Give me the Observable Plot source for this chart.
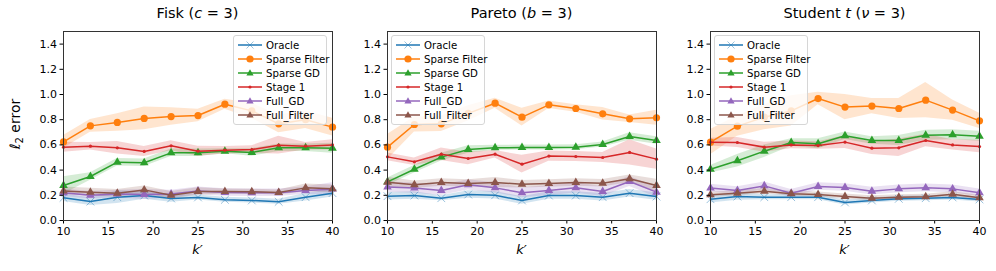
<!DOCTYPE html>
<html>
<head>
<meta charset="utf-8">
<script src="https://cdn.jsdelivr.net/npm/d3@7"></script>
<script src="https://cdn.jsdelivr.net/npm/@observablehq/plot@0.6"></script>
<style>
  body { margin: 0; background: #fff; font-family: "DejaVu Sans", sans-serif; }
  #fig { position: relative; width: 996px; height: 271px; overflow: hidden; }
  .panel { position: absolute; top: 0; }
  .title { position: absolute; top: 5px; font-size: 14.5px; text-align: center; white-space: nowrap; transform: translateX(-50%); }
  .xlab { position: absolute; top: 242px; font-size: 13px; font-style: italic; transform: translateX(-50%); }
  .ylab { position: absolute; font-size: 14px; white-space: nowrap; transform: translate(-50%, -50%) rotate(-90deg); left: 16px; top: 124px; }
  .legend { position: absolute; width: 94px; background: rgba(255,255,255,0.8); border: 1px solid #d6d6d6; border-radius: 3px; box-sizing: border-box; padding: 2px 2px 2px 3px; }
  .lrow { display: flex; align-items: center; height: 14px; font-size: 10.2px; font-family: "DejaVu Sans"; white-space: nowrap; }
  .lrow svg { margin-right: 3px; flex: none; }
</style>
</head>
<body>
<div id="fig"></div>
<script>
// ---------- data ----------
const kValues = [10, 13, 16, 19, 22, 25, 28, 31, 34, 37, 40];
const xTicks = [10, 15, 20, 25, 30, 35, 40];
const yTicks = [0, 0.2, 0.4, 0.6, 0.8, 1.0, 1.2, 1.4];
const seriesNames = ["Oracle", "Sparse Filter", "Sparse GD", "Stage 1", "Full_GD", "Full_Filter"];
const seriesColors = ["#1f77b4", "#ff7f0e", "#2ca02c", "#d62728", "#9467bd", "#8c564b"];
const seriesMarkers = ["times", "circle", "triangle", "dot", "triangle", "triangle"];
const panelTitles = ["Fisk (<i>c</i> = 3)", "Pareto (<i>b</i> = 3)", "Student <i>t</i> (<i>ν</i> = 3)"];

// Fisk (c = 3): means and band half-widths
const fiskOracle = [0.18, 0.15, 0.185, 0.198, 0.175, 0.183, 0.164, 0.159, 0.148, 0.185, 0.217];
const fiskOracleBand = [0.03, 0.03, 0.05, 0.03, 0.03, 0.02, 0.02, 0.02, 0.02, 0.03, 0.03];
const fiskSparseFilter = [0.624, 0.751, 0.778, 0.81, 0.825, 0.833, 0.923, 0.87, 0.767, 0.80, 0.741];
const fiskSparseFilterBand = [0.05, 0.05, 0.07, 0.09, 0.07, 0.05, 0.04, 0.06, 0.07, 0.07, 0.07];
const fiskSparseGD = [0.278, 0.349, 0.463, 0.458, 0.537, 0.537, 0.55, 0.54, 0.577, 0.577, 0.574];
const fiskSparseGDBand = [0.07, 0.03, 0.03, 0.03, 0.03, 0.03, 0.02, 0.03, 0.03, 0.03, 0.04];
const fiskStage1 = [0.582, 0.59, 0.577, 0.548, 0.593, 0.55, 0.558, 0.563, 0.598, 0.59, 0.60];
const fiskStage1Band = [0.04, 0.03, 0.05, 0.04, 0.04, 0.04, 0.03, 0.03, 0.07, 0.03, 0.04];
const fiskFullGD = [0.22, 0.20, 0.21, 0.206, 0.21, 0.235, 0.222, 0.22, 0.22, 0.238, 0.249];
const fiskFullGDBand = [0.03, 0.03, 0.03, 0.04, 0.03, 0.03, 0.03, 0.03, 0.03, 0.03, 0.05];
const fiskFullFilter = [0.235, 0.225, 0.217, 0.243, 0.20, 0.23, 0.23, 0.228, 0.222, 0.259, 0.251];
const fiskFullFilterBand = [0.03, 0.03, 0.03, 0.03, 0.03, 0.03, 0.02, 0.02, 0.02, 0.03, 0.03];

// Pareto (b = 3)
const paretoOracle = [0.193, 0.198, 0.177, 0.206, 0.20, 0.159, 0.198, 0.198, 0.185, 0.217, 0.19];
const paretoOracleBand = [0.03, 0.03, 0.02, 0.03, 0.03, 0.03, 0.03, 0.03, 0.03, 0.03, 0.03];
const paretoSparseFilter = [0.582, 0.762, 0.767, 0.85, 0.931, 0.82, 0.918, 0.889, 0.847, 0.807, 0.815];
const paretoSparseFilterBand = [0.10, 0.06, 0.06, 0.06, 0.04, 0.07, 0.03, 0.03, 0.05, 0.03, 0.06];
const paretoSparseGD = [0.307, 0.407, 0.503, 0.563, 0.577, 0.579, 0.579, 0.582, 0.603, 0.667, 0.635];
const paretoSparseGDBand = [0.03, 0.03, 0.03, 0.03, 0.02, 0.02, 0.02, 0.02, 0.02, 0.03, 0.03];
const paretoStage1 = [0.505, 0.466, 0.526, 0.492, 0.526, 0.447, 0.511, 0.508, 0.50, 0.54, 0.487];
const paretoStage1Band = [0.03, 0.03, 0.05, 0.05, 0.03, 0.07, 0.04, 0.04, 0.04, 0.10, 0.08];
const paretoFullGD = [0.265, 0.257, 0.238, 0.283, 0.259, 0.22, 0.238, 0.259, 0.23, 0.31, 0.225];
const paretoFullGDBand = [0.04, 0.04, 0.04, 0.04, 0.04, 0.04, 0.04, 0.04, 0.04, 0.04, 0.04];
const paretoFullFilter = [0.304, 0.283, 0.302, 0.294, 0.302, 0.288, 0.294, 0.302, 0.296, 0.331, 0.278];
const paretoFullFilterBand = [0.04, 0.03, 0.03, 0.03, 0.04, 0.03, 0.03, 0.03, 0.03, 0.03, 0.05];

// Student t (nu = 3)
const studentOracle = [0.169, 0.19, 0.185, 0.185, 0.185, 0.143, 0.159, 0.172, 0.177, 0.183, 0.167];
const studentOracleBand = [0.03, 0.03, 0.02, 0.02, 0.02, 0.02, 0.02, 0.02, 0.02, 0.02, 0.02];
const studentSparseFilter = [0.622, 0.749, 0.82, 0.87, 0.968, 0.90, 0.908, 0.889, 0.955, 0.876, 0.791];
const studentSparseFilterBand = [0.10, 0.08, 0.10, 0.12, 0.05, 0.10, 0.06, 0.08, 0.14, 0.08, 0.06];
const studentSparseGD = [0.407, 0.474, 0.55, 0.619, 0.609, 0.672, 0.635, 0.635, 0.677, 0.68, 0.669];
const studentSparseGDBand = [0.03, 0.05, 0.05, 0.03, 0.04, 0.03, 0.03, 0.04, 0.04, 0.04, 0.04];
const studentStage1 = [0.622, 0.619, 0.582, 0.60, 0.595, 0.622, 0.574, 0.577, 0.635, 0.60, 0.587];
const studentStage1Band = [0.03, 0.04, 0.04, 0.03, 0.03, 0.05, 0.05, 0.07, 0.05, 0.04, 0.05];
const studentFullGD = [0.257, 0.238, 0.275, 0.217, 0.27, 0.262, 0.233, 0.251, 0.259, 0.251, 0.22];
const studentFullGDBand = [0.03, 0.03, 0.03, 0.03, 0.03, 0.03, 0.03, 0.03, 0.03, 0.03, 0.03];
const studentFullFilter = [0.204, 0.217, 0.233, 0.212, 0.206, 0.19, 0.177, 0.185, 0.188, 0.209, 0.18];
const studentFullFilterBand = [0.02, 0.02, 0.02, 0.02, 0.02, 0.02, 0.02, 0.02, 0.02, 0.02, 0.02];

const panelMeans = [
  [fiskOracle, fiskSparseFilter, fiskSparseGD, fiskStage1, fiskFullGD, fiskFullFilter],
  [paretoOracle, paretoSparseFilter, paretoSparseGD, paretoStage1, paretoFullGD, paretoFullFilter],
  [studentOracle, studentSparseFilter, studentSparseGD, studentStage1, studentFullGD, studentFullFilter]
];
const panelBands = [
  [fiskOracleBand, fiskSparseFilterBand, fiskSparseGDBand, fiskStage1Band, fiskFullGDBand, fiskFullFilterBand],
  [paretoOracleBand, paretoSparseFilterBand, paretoSparseGDBand, paretoStage1Band, paretoFullGDBand, paretoFullFilterBand],
  [studentOracleBand, studentSparseFilterBand, studentSparseGDBand, studentStage1Band, studentFullGDBand, studentFullFilterBand]
];

// ---------- layout ----------
const plotLefts = [63, 387, 710];     // left edge of each axes frame
const plotW = 269;
const mLeft = 50, mRight = 12, mTop = 31, mBottom = 51;
const legendLefts = [233, 391, 714];

const fig = document.getElementById("fig");

function markerStyle(i) {
  const m = seriesMarkers[i];
  if (m === "times") return {r: 3.6, stroke: seriesColors[i], strokeWidth: 1, strokeOpacity: 0.45, fill: "none"};
  if (m === "circle") return {r: 3.6, fill: seriesColors[i]};
  if (m === "triangle") return {r: 3.2, fill: seriesColors[i]};
  return {r: 1.6, fill: seriesColors[i]};
}

panelMeans.forEach((means, p) => {
  const rows = [];
  means.forEach((arr, s) => {
    arr.forEach((v, j) => {
      const b = panelBands[p][s][j];
      rows.push({series: seriesNames[s], s, k: kValues[j], v, lo: v - b, hi: v + b});
    });
  });
  const marks = [];
  seriesNames.forEach((name, s) => {
    const d = rows.filter(r => r.s === s);
    marks.push(Plot.areaY(d, {x: "k", y1: "lo", y2: "hi", fill: seriesColors[s], fillOpacity: 0.2}));
  });
  seriesNames.forEach((name, s) => {
    const d = rows.filter(r => r.s === s);
    const ms = markerStyle(s);
    marks.push(Plot.lineY(d, {x: "k", y: "v", stroke: seriesColors[s], strokeWidth: 1.5}));
    const sym = seriesMarkers[s] === "dot" ? "circle" : seriesMarkers[s];
    marks.push(Plot.dot(d, {x: "k", y: "v", symbol: () => sym, ...ms}));
  });
  marks.push(Plot.axisX({ticks: xTicks, tickSize: 3.5, tickPadding: 3, tickFormat: d => String(d), label: null}));
  marks.push(Plot.axisY({ticks: yTicks, tickSize: 3.5, tickPadding: 3, tickFormat: d3.format(".1f"), label: null}));
  marks.push(Plot.frame({stroke: "#333", strokeWidth: 1}));

  const svg = Plot.plot({
    width: mLeft + plotW + mRight,
    height: 271,
    marginLeft: mLeft, marginRight: mRight, marginTop: mTop, marginBottom: mBottom,
    x: {domain: [10, 40]},
    y: {domain: [0, 1.5]},
    symbol: {type: "identity"},
    style: {fontFamily: "DejaVu Sans", fontSize: "11px", color: "#000", background: "transparent", overflow: "visible"},
    marks
  });
  const wrap = document.createElement("div");
  wrap.className = "panel";
  wrap.style.left = (plotLefts[p] - mLeft) + "px";
  wrap.appendChild(svg);
  fig.appendChild(wrap);

  const t = document.createElement("div");
  t.className = "title";
  t.style.left = (plotLefts[p] + plotW / 2) + "px";
  t.innerHTML = panelTitles[p];
  fig.appendChild(t);

  const xl = document.createElement("div");
  xl.className = "xlab";
  xl.style.left = (plotLefts[p] + plotW / 2) + "px";
  xl.textContent = "k′";
  fig.appendChild(xl);

  // legend
  const lg = document.createElement("div");
  lg.className = "legend";
  lg.style.left = legendLefts[p] + "px";
  lg.style.top = "35px";
  seriesNames.forEach((name, s) => {
    const row = document.createElement("div");
    row.className = "lrow";
    const c = seriesColors[s];
    let mk = "";
    const m = seriesMarkers[s];
    if (m === "times") mk = `<path d="M9.5,2.5L16.5,9.5M16.5,2.5L9.5,9.5" stroke="${c}" stroke-opacity="0.45" stroke-width="1"/>`;
    else if (m === "circle") mk = `<circle cx="13" cy="6" r="3.6" fill="${c}"/>`;
    else if (m === "triangle") mk = `<path d="M13,2.2L16.6,8.6L9.4,8.6Z" fill="${c}"/>`;
    else mk = `<circle cx="13" cy="6" r="1.6" fill="${c}"/>`;
    row.innerHTML = `<svg width="26" height="12"><line x1="1" x2="25" y1="6" y2="6" stroke="${c}" stroke-width="1.5"/>${mk}</svg><span>${name}</span>`;
    lg.appendChild(row);
  });
  fig.appendChild(lg);
});

const yl = document.createElement("div");
yl.className = "ylab";
yl.innerHTML = "<i>ℓ</i><sub style='font-size:10px'>2</sub> error";
fig.appendChild(yl);
</script>
</body>
</html>
